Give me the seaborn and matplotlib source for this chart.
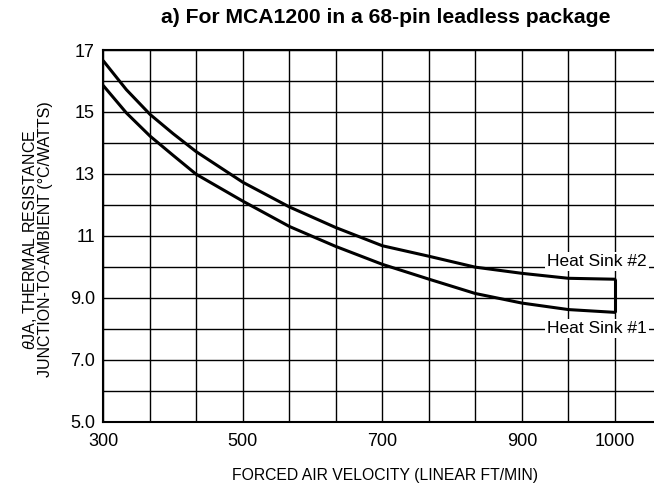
import numpy as np
import pandas as pd
import matplotlib
matplotlib.use("Agg")
import matplotlib.pyplot as plt
import seaborn as sns

# Air velocity (linear ft/min) at which each curve was read
velocity = [300, 333, 367, 400, 433, 500, 567, 633, 700, 767, 833, 900, 950, 1000]
# Junction-to-ambient thermal resistance (degC/W)
heat_sink_2 = [16.65, 15.72, 14.92, 14.30, 13.72, 12.73, 11.93, 11.27, 10.68, 10.34, 9.99, 9.79, 9.63, 9.60]
heat_sink_1 = [15.85, 14.97, 14.22, 13.60, 12.99, 12.12, 11.30, 10.66, 10.08, 9.60, 9.14, 8.83, 8.62, 8.53]

series_names = ["Heat Sink #2", "Heat Sink #1"]
x_tick_labels = {300: "300", 500: "500", 700: "700", 900: "900", 1000: "1000"}
y_tick_labels = {5: "5.0", 7: "7.0", 9: "9.0", 11: "11", 13: "13", 15: "15", 17: "17"}
title = "a) For MCA1200 in a 68-pin leadless package"
x_label = "FORCED AIR VELOCITY (LINEAR FT/MIN)"
y_label = "$\\theta$JA, THERMAL RESISTANCE\nJUNCTION-TO-AMBIENT (°C/WATTS)"

df = pd.DataFrame({
    "velocity": velocity * 2,
    "theta": heat_sink_2 + heat_sink_1,
    "series": [series_names[0]] * len(velocity) + [series_names[1]] * len(velocity),
})

sns.set_theme(style="white")
plt.rcParams["font.family"] = ["Liberation Sans", "DejaVu Sans"]
plt.rcParams["mathtext.fontset"] = "custom"
plt.rcParams["mathtext.rm"] = "Liberation Sans"
plt.rcParams["mathtext.it"] = "Liberation Sans:italic"
plt.rcParams["text.color"] = "black"

fig = plt.figure(figsize=(6.54, 4.86), dpi=100)
ax = fig.add_axes([0.158, 0.1323, 0.842, 0.7648])


# Velocity axis: 200 ft/min per three grid cells up to 900, then 50 ft/min per cell
def fwd(v):
    v = np.asarray(v, dtype=float)
    return np.where(v <= 900, (v - 300) / (200 / 3), 9 + (v - 900) / 50)


def inv(p):
    p = np.asarray(p, dtype=float)
    return np.where(p <= 9, 300 + p * (200 / 3), 900 + (p - 9) * 50)


ax.set_xscale("function", functions=(fwd, inv))

sns.lineplot(data=df, x="velocity", y="theta", hue="series",
             palette=["black", "black"], linewidth=2.2, legend=False, ax=ax,
             zorder=3)
ax.vlines(velocity[-1], heat_sink_1[-1], heat_sink_2[-1], color="black",
          linewidth=2.2, zorder=3)

grid_x = list(inv(np.arange(0, 12)))
ax.set_xlim(300, 1042)
ax.set_ylim(5, 17)
ax.set_xticks(grid_x)
ax.set_xticklabels([x_tick_labels.get(int(round(g)), "") for g in grid_x])
ax.set_yticks(range(5, 18))
ax.set_yticklabels([y_tick_labels.get(v, "") for v in range(5, 18)])
ax.grid(True, color="black", linewidth=1.0)
ax.tick_params(length=0, labelsize=13, colors="black")
ax.tick_params(axis="x", pad=8)
ax.tick_params(axis="y", pad=6)
for side in ["left", "bottom", "top"]:
    ax.spines[side].set_color("black")
    ax.spines[side].set_linewidth(1.5)
ax.spines["right"].set_visible(False)

ax.set_xlabel(x_label, fontsize=11.3, color="black")
ax.xaxis.set_label_coords(0.511, -0.125)
ax.set_ylabel(y_label, fontsize=11.5, color="black", linespacing=0.9)
ax.yaxis.set_label_coords(-0.092, 0.49)
fig.text(0.5895, 0.965, title, ha="center", va="center", fontsize=15.2,
         fontweight="bold", color="black")

label_y = [10.17, 8.01]
for name, yy in zip(series_names, label_y):
    ax.text(927, yy, name, fontsize=12.5, va="center", ha="left", color="black",
            bbox=dict(facecolor="white", edgecolor="none", pad=1.5), zorder=4)

fig.savefig("out.png", dpi=100)
